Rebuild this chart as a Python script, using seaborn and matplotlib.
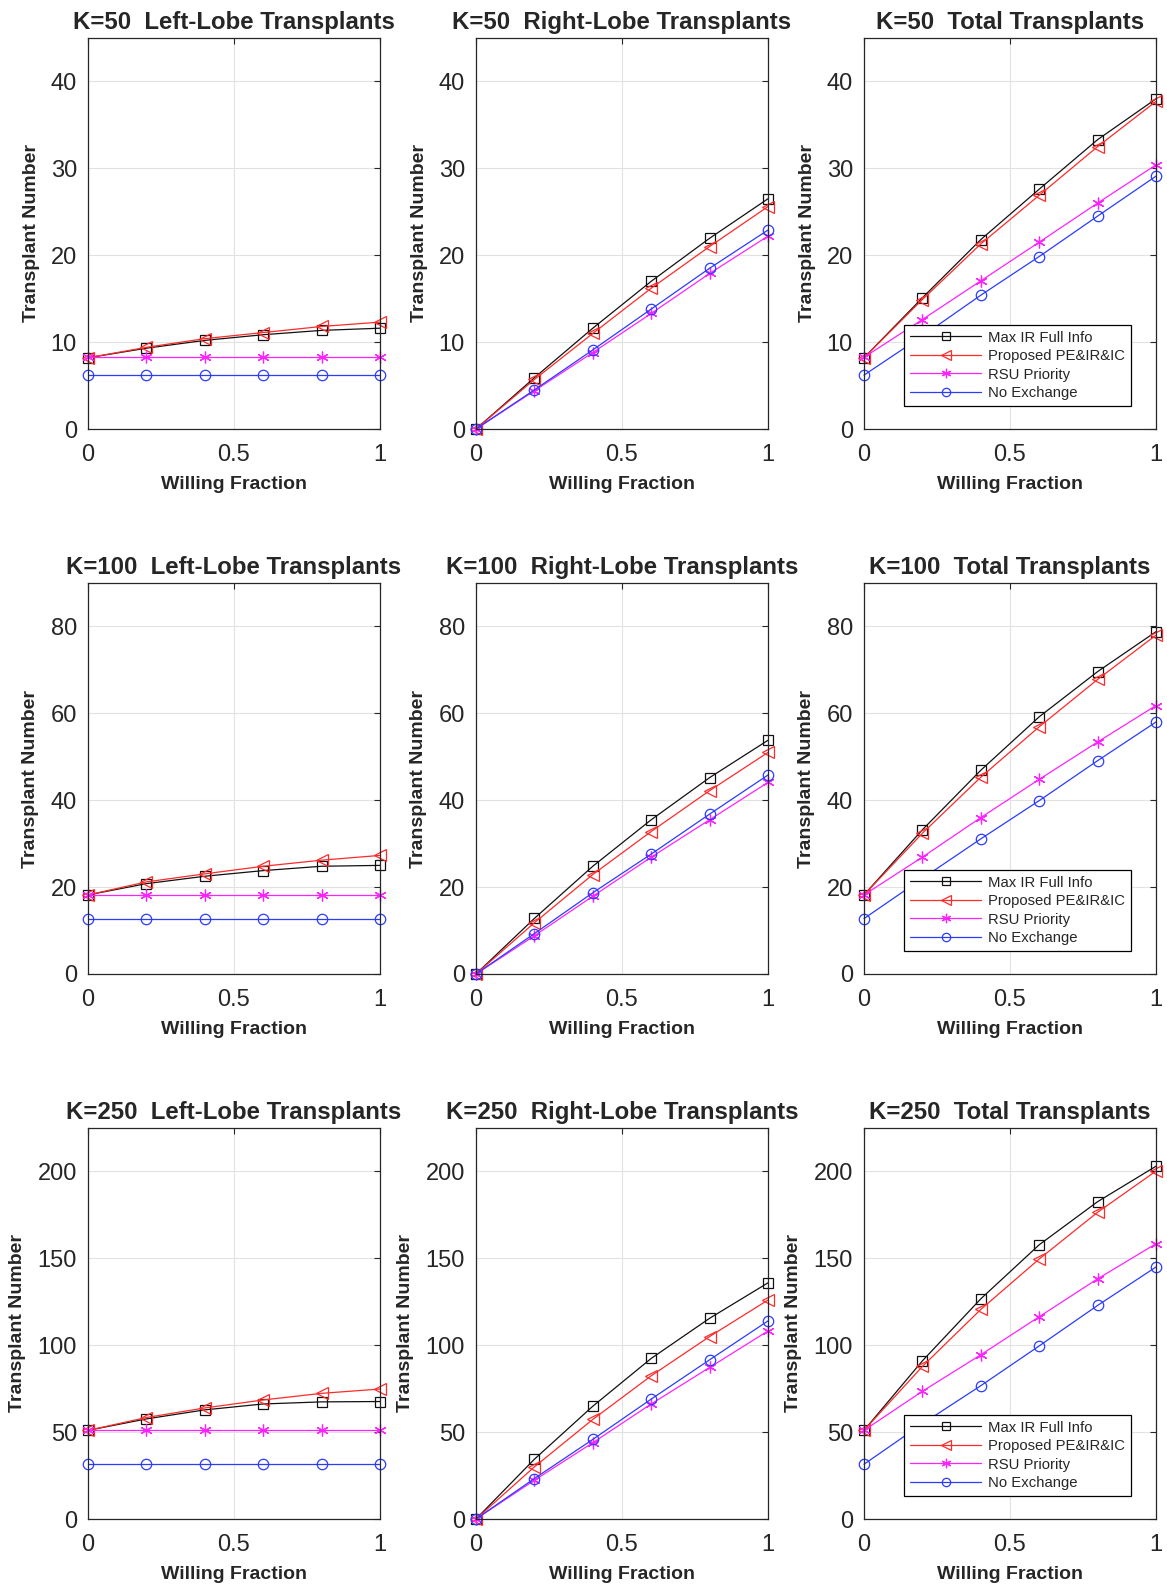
import numpy as np
import pandas as pd
import matplotlib
matplotlib.use("Agg")
import matplotlib.pyplot as plt
import seaborn as sns

# ----------------------------------------------------------------------
# Data
# ----------------------------------------------------------------------
willing = [0.0, 0.2, 0.4, 0.6, 0.8, 1.0]

methods = ["Max IR Full Info", "Proposed PE&IR&IC", "RSU Priority", "No Exchange"]

# K = 50
k50_left_maxir = [8.2, 9.3, 10.2, 10.85, 11.35, 11.6]
k50_left_prop = [8.2, 9.4, 10.4, 11.1, 11.8, 12.3]
k50_left_rsu = [8.25, 8.25, 8.25, 8.25, 8.25, 8.25]
k50_left_noex = [6.2, 6.2, 6.2, 6.2, 6.2, 6.2]

k50_right_maxir = [0.0, 5.9, 11.6, 17.0, 21.95, 26.5]
k50_right_prop = [0.0, 5.7, 11.0, 16.2, 21.0, 25.6]
k50_right_rsu = [0.0, 4.4, 8.8, 13.3, 17.9, 22.2]
k50_right_noex = [0.0, 4.5, 9.1, 13.8, 18.5, 22.9]

k50_total_maxir = [8.2, 15.1, 21.8, 27.6, 33.3, 38.0]
k50_total_prop = [8.2, 14.9, 21.3, 26.9, 32.5, 37.7]
k50_total_rsu = [8.25, 12.6, 17.05, 21.5, 26.0, 30.4]
k50_total_noex = [6.2, 10.7, 15.4, 19.85, 24.5, 29.1]

# K = 100
k100_left_maxir = [18.2, 20.8, 22.5, 23.8, 24.8, 25.0]
k100_left_prop = [18.2, 21.2, 23.05, 24.8, 26.2, 27.3]
k100_left_rsu = [18.2, 18.2, 18.2, 18.2, 18.2, 18.2]
k100_left_noex = [12.75, 12.75, 12.75, 12.75, 12.75, 12.75]

k100_right_maxir = [0.0, 12.8, 24.8, 35.5, 45.2, 53.8]
k100_right_prop = [0.0, 11.8, 22.9, 32.8, 42.2, 51.0]
k100_right_rsu = [0.0, 8.8, 17.9, 26.9, 35.5, 44.1]
k100_right_noex = [0.0, 9.3, 18.7, 27.6, 36.8, 45.8]

k100_total_maxir = [18.2, 33.2, 46.9, 59.2, 69.6, 78.8]
k100_total_prop = [18.2, 32.4, 45.3, 56.9, 67.8, 78.0]
k100_total_rsu = [18.2, 26.9, 36.0, 44.8, 53.4, 61.8]
k100_total_noex = [12.75, 22.0, 31.1, 39.9, 49.1, 58.0]

# K = 250
k250_left_maxir = [51.0, 57.6, 62.8, 66.2, 67.4, 67.6]
k250_left_prop = [51.0, 58.4, 63.9, 68.5, 72.3, 74.8]
k250_left_rsu = [51.0, 51.0, 51.0, 51.0, 51.0, 51.0]
k250_left_noex = [31.5, 31.5, 31.5, 31.5, 31.5, 31.5]

k250_right_maxir = [0.0, 34.4, 64.9, 92.4, 115.5, 135.9]
k250_right_prop = [0.0, 30.0, 57.3, 82.4, 105.0, 126.0]
k250_right_rsu = [0.0, 22.3, 43.9, 66.2, 87.2, 108.2]
k250_right_noex = [0.0, 23.3, 45.8, 69.0, 91.6, 114.0]

k250_total_maxir = [51.0, 91.0, 126.7, 157.8, 182.6, 203.0]
k250_total_prop = [51.0, 87.8, 120.6, 149.6, 176.5, 200.2]
k250_total_rsu = [51.0, 73.5, 94.5, 116.4, 138.2, 158.4]
k250_total_noex = [31.5, 54.8, 76.7, 99.6, 122.9, 145.0]

panels = [
    ("K=50  Left-Lobe Transplants", [k50_left_maxir, k50_left_prop, k50_left_rsu, k50_left_noex]),
    ("K=50  Right-Lobe Transplants", [k50_right_maxir, k50_right_prop, k50_right_rsu, k50_right_noex]),
    ("K=50  Total Transplants", [k50_total_maxir, k50_total_prop, k50_total_rsu, k50_total_noex]),
    ("K=100  Left-Lobe Transplants", [k100_left_maxir, k100_left_prop, k100_left_rsu, k100_left_noex]),
    ("K=100  Right-Lobe Transplants", [k100_right_maxir, k100_right_prop, k100_right_rsu, k100_right_noex]),
    ("K=100  Total Transplants", [k100_total_maxir, k100_total_prop, k100_total_rsu, k100_total_noex]),
    ("K=250  Left-Lobe Transplants", [k250_left_maxir, k250_left_prop, k250_left_rsu, k250_left_noex]),
    ("K=250  Right-Lobe Transplants", [k250_right_maxir, k250_right_prop, k250_right_rsu, k250_right_noex]),
    ("K=250  Total Transplants", [k250_total_maxir, k250_total_prop, k250_total_rsu, k250_total_noex]),
]

row_ylim = [45, 90, 225]
row_yticks = [[0, 10, 20, 30, 40], [0, 20, 40, 60, 80], [0, 50, 100, 150, 200]]

# ----------------------------------------------------------------------
# Style
# ----------------------------------------------------------------------
sns.set_style("white")
plt.rcParams["font.family"] = ["Liberation Sans", "DejaVu Sans"]

colors = ["#111111", "#ff2a2a", "#ff22ff", "#2a3cff"]
markers = ["s", "<", (6, 2, 0), "o"]
msizes = [6.5, 8.5, 8.5, 7.5]
AXC = "#262626"

fig = plt.figure(figsize=(11.67, 15.85), dpi=100)
W, H = 1167.0, 1585.0

col_left = [88, 476, 864]
col_width = 292
row_top = [38, 583, 1128]
row_height = 391

for i, (title, series) in enumerate(panels):
    r, c = divmod(i, 3)
    ax = fig.add_axes([col_left[c] / W, (H - row_top[r] - row_height) / H,
                       col_width / W, row_height / H])

    for name, vals, col, mk, ms in zip(methods, series, colors, markers, msizes):
        sns.lineplot(x=willing, y=vals, ax=ax, color=col, label=name,
                     marker=mk, markersize=ms, mfc="none", mec=col, mew=0.9,
                     linewidth=0.9, clip_on=False)

    ax.set_xlim(0, 1)
    ax.set_ylim(0, row_ylim[r])
    ax.set_xticks([0, 0.5, 1])
    ax.set_xticklabels(["0", "0.5", "1"])
    ax.set_yticks(row_yticks[r])
    ax.grid(True, color="#e2e2e2", linewidth=0.8)
    ax.set_axisbelow(True)
    ax.tick_params(direction="in", length=4, width=0.8, colors=AXC,
                   labelsize=17, top=True, right=True)
    ax.tick_params(axis="x", pad=11)
    ax.tick_params(axis="y", pad=8)
    for sp in ax.spines.values():
        sp.set_color(AXC)
        sp.set_linewidth(0.9)

    ax.set_title(title, fontsize=17.3, fontweight="bold", pad=6.5)
    ax.set_xlabel("Willing Fraction", fontsize=14, fontweight="bold", labelpad=7)
    ax.set_ylabel("Transplant Number", fontsize=14, fontweight="bold", labelpad=8)

    if c == 2:
        leg = ax.legend(loc="lower left", bbox_to_anchor=(0.137, 0.059),
                        borderaxespad=0, fontsize=10.7, handlelength=4.8,
                        handletextpad=0.45, labelspacing=0.3, borderpad=0.4,
                        fancybox=False, framealpha=1, edgecolor="black",
                        numpoints=1, markerscale=0.8)
        leg.get_frame().set_linewidth(0.9)
        leg.set_zorder(10)
    else:
        ax.get_legend().remove()

fig.savefig("out.png", dpi=100)
